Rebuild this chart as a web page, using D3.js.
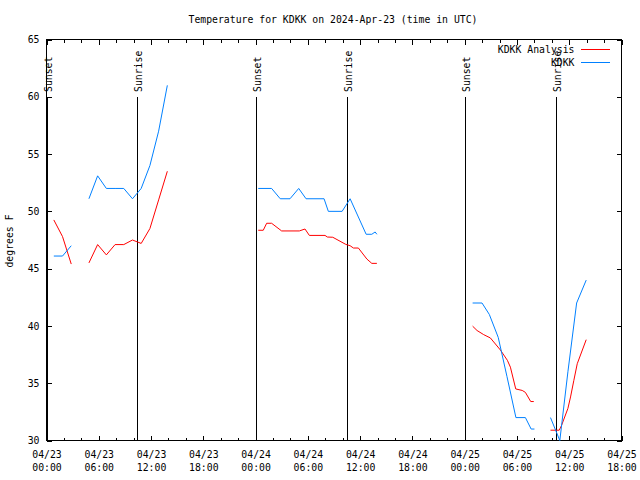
<!DOCTYPE html>
<html>
<head>
<meta charset="utf-8">
<script src="https://cdn.jsdelivr.net/npm/d3@7"></script>
<style>
  html, body { margin: 0; padding: 0; background: #fff; }
  svg { display: block; }
  text { font-family: "DejaVu Sans Mono", "Liberation Mono", monospace; font-size: 9.8px; fill: #000; }
</style>
</head>
<body>
<svg id="chart" width="640" height="480"></svg>
<script>
// ---- data (hours since 2024-04-23 00:00 UTC; null breaks the line) ----
const obsHours = [0.84,1.84,2.84, 3.8,
  4.87,5.87,6.87,7.87,8.87,9.87,10.87,11.87,12.87,13.87, 20,
  24.3,25.84,26.83,27.95,28.95,29.79,31.86,32.35,33.93,34.85,36.69,37.34,37.72,37.92, 44,
  48.91,49.99,50.83,51.85,52.85,53.88,54.97,55.63,56.01, 57,
  57.85,58.92,59.85,60.85,61.95];
const obsTemps = [46.1,46.1,47.0, null,
  51.1,53.1,52.0,52.0,52.0,51.1,52.0,54.0,57.0,61.0, null,
  52.0,52.0,51.1,51.1,52.0,51.1,51.1,50.0,50.0,51.1,48.0,48.0,48.2,48.0, null,
  42.0,42.0,41.0,39.0,35.6,32.0,32.0,31.0,31.0, null,
  32.0,30.0,36.0,42.0,44.0];

const anaHours = [0.84,1.84,2.84, 3.8,
  4.87,5.87,6.87,7.87,8.87,9.87,10.87,11.87,12.87,13.87, 20,
  24.3,24.88,25.27,25.84,26.99,29.02,29.67,30.17,31.97,32.24,32.86,34.35,34.85,35.23,35.8,36.77,37.34,37.92, 44,
  48.91,49.42,50.18,50.95,52.1,52.9,53.25,53.86,54.6,54.97,55.58,55.93, 57,
  57.85,58.85,59.11,59.85,60.15,60.53,60.92,61.95];
const anaTemps = [49.25,47.8,45.4, null,
  45.5,47.1,46.2,47.1,47.1,47.5,47.2,48.5,51.0,53.5, null,
  48.35,48.35,48.96,48.96,48.29,48.29,48.46,47.9,47.9,47.76,47.74,47.12,47.0,46.8,46.8,45.84,45.46,45.46, null,
  39.98,39.6,39.24,38.95,37.9,37.0,36.4,34.5,34.37,34.2,33.4,33.4, null,
  30.9,30.9,31.3,32.8,33.8,35.25,36.7,38.8];

const sunsetHours = [0.0, 24.07, 48.08];
const sunriseHours = [10.4, 34.44, 58.45];

const yTicks = [30, 35, 40, 45, 50, 55, 60, 65];
const majorTickHours = d3.range(0, 67, 6);
const minorTickHours = d3.range(0, 67, 2);

const seriesNames = ["KDKK Analysis", "KDKK"];
const seriesColors = ["#ff0000", "#0080ff"];
const titleText = "Temperature for KDKK on 2024-Apr-23 (time in UTC)";
const yLabelText = "degrees F";

// ---- chart ----
const t0 = Date.UTC(2024, 3, 23, 0, 0);
const toDate = h => new Date(t0 + h * 3600e3);

const L = 46.5, R = 621.5, T = 39.5, B = 440.5;
const svg = d3.select("#chart");

const x = d3.scaleUtc().domain([toDate(0), toDate(66)]).range([L, R]);
const y = d3.scaleLinear().domain([30, 65]).range([B, T]);

const pad2 = n => String(n).padStart(2, "0");
const fmtDate = d => pad2(d.getUTCMonth() + 1) + "/" + pad2(d.getUTCDate());
const fmtTime = d => pad2(d.getUTCHours()) + ":" + pad2(d.getUTCMinutes());

// title
svg.append("text").attr("x", 333).attr("y", 23).attr("text-anchor", "middle").text(titleText);

// y label
svg.append("text")
  .attr("transform", "translate(13,241) rotate(-90)")
  .attr("text-anchor", "middle")
  .text(yLabelText);

const axisStyle = g => {
  g.select(".domain").remove();
  g.selectAll("line").attr("stroke", "#000").attr("shape-rendering", "crispEdges");
  g.selectAll("text").attr("font-family", null).attr("font-size", null);
};

// bottom major with two-line labels
svg.append("g").attr("transform", `translate(0,${B})`)
  .call(d3.axisBottom(x).tickValues(majorTickHours.map(toDate)).tickSize(-5).tickSizeOuter(0).tickFormat(""))
  .call(axisStyle)
  .call(g => g.selectAll(".tick text").each(function(d) {
    const t = d3.select(this).attr("y", null).attr("dy", null);
    t.append("tspan").attr("x", 0).attr("y", 17.5).text(fmtDate(d));
    t.append("tspan").attr("x", 0).attr("y", 30.5).text(fmtTime(d));
  }));
svg.append("g").attr("transform", `translate(0,${B})`)
  .call(d3.axisBottom(x).tickValues(minorTickHours.map(toDate)).tickSize(-3).tickSizeOuter(0).tickFormat(""))
  .call(axisStyle);
// top mirrored
svg.append("g").attr("transform", `translate(0,${T})`)
  .call(d3.axisTop(x).tickValues(majorTickHours.map(toDate)).tickSize(-5).tickSizeOuter(0).tickFormat(""))
  .call(axisStyle);
svg.append("g").attr("transform", `translate(0,${T})`)
  .call(d3.axisTop(x).tickValues(minorTickHours.map(toDate)).tickSize(-3).tickSizeOuter(0).tickFormat(""))
  .call(axisStyle);
// left / right
svg.append("g").attr("transform", `translate(${L},0)`)
  .call(d3.axisLeft(y).tickValues(yTicks).tickSize(-5).tickSizeOuter(0).tickPadding(7).tickFormat(d3.format("d")))
  .call(axisStyle);
svg.append("g").attr("transform", `translate(${R},0)`)
  .call(d3.axisRight(y).tickValues(yTicks).tickSize(-5).tickSizeOuter(0).tickFormat(""))
  .call(axisStyle);

// border
svg.append("rect").attr("x", L).attr("y", T).attr("width", R - L).attr("height", B - T)
  .attr("fill", "none").attr("stroke", "#000").attr("shape-rendering", "crispEdges");

// sunset / sunrise markers
const events = sunsetHours.map(h => ({h, label: "Sunset"}))
  .concat(sunriseHours.map(h => ({h, label: "Sunrise"})));
const ev = svg.append("g");
events.forEach(e => {
  const ex = Math.round(x(toDate(e.h))) + 0.5;
  ev.append("line").attr("x1", ex).attr("x2", ex).attr("y1", 97).attr("y2", B)
    .attr("stroke", "#000").attr("stroke-width", 1.2).attr("shape-rendering", "crispEdges");
  ev.append("text")
    .attr("transform", `translate(${ex + 1.5},92) rotate(-90)`)
    .attr("text-anchor", "start").attr("dy", "0.35em")
    .text(e.label);
});

// data lines
svg.append("clipPath").attr("id", "plotclip")
  .append("rect").attr("x", L).attr("y", T).attr("width", R - L).attr("height", B - T + 1);

const line = d3.line()
  .defined(d => d.v !== null)
  .x(d => x(toDate(d.h)))
  .y(d => y(d.v));

const anaData = anaHours.map((h, i) => ({h, v: anaTemps[i]}));
const obsData = obsHours.map((h, i) => ({h, v: obsTemps[i]}));

const plot = svg.append("g").attr("clip-path", "url(#plotclip)");
plot.append("path").datum(anaData).attr("d", line)
  .attr("fill", "none").attr("stroke", seriesColors[0]).attr("stroke-width", 1);
plot.append("path").datum(obsData).attr("d", line)
  .attr("fill", "none").attr("stroke", seriesColors[1]).attr("stroke-width", 1);

// legend
const legY = [49.5, 62.5];
seriesNames.forEach((name, i) => {
  svg.append("text").attr("x", 574.5).attr("y", legY[i]).attr("dy", "0.35em")
    .attr("text-anchor", "end").text(name);
  svg.append("line").attr("x1", 581).attr("x2", 610).attr("y1", legY[i]).attr("y2", legY[i])
    .attr("stroke", seriesColors[i]).attr("stroke-width", 1).attr("shape-rendering", "crispEdges");
});
</script>
</body>
</html>
